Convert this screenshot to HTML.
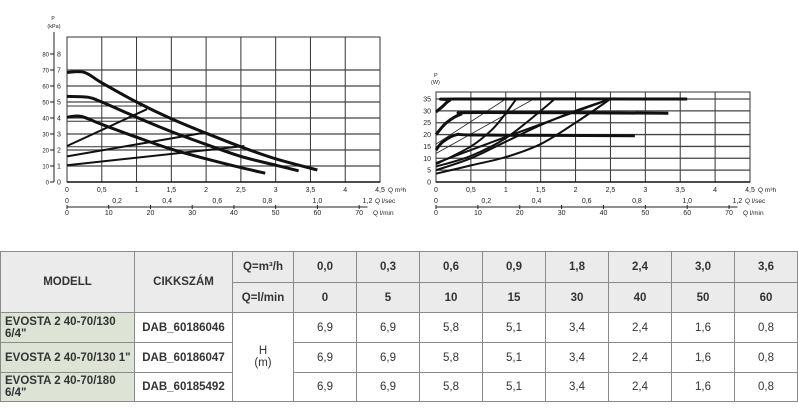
<!DOCTYPE html>
<html><head><meta charset="utf-8"><style>
body{margin:0;background:#fff;width:798px;height:419px;overflow:hidden;font-family:"Liberation Sans",sans-serif}
svg{position:absolute;left:0;top:0}
svg text{font-family:"Liberation Sans",sans-serif;fill:#222}
table{position:absolute;left:0;top:251px;border-collapse:collapse;table-layout:fixed;width:797px}
td{border:1px solid #8a8a8a;text-align:center;font-size:11.5px;color:#333;padding:0;font-family:"Liberation Sans",sans-serif}
.h{background:#ebebeb;font-weight:bold}
.m{background:#dde3d5;font-weight:bold;text-align:left;padding-left:4px}
.b{font-weight:bold}
</style></head><body>
<svg id="chart" width="798" height="250"></svg>
<table>
<colgroup><col style="width:134px"><col style="width:98px"><col style="width:61px"><col style="width:63px"><col style="width:63px"><col style="width:63px"><col style="width:63px"><col style="width:63px"><col style="width:63px"><col style="width:63px"><col style="width:63px"></colgroup>
<tr style="height:31px"><td class="h" rowspan="2">MODELL</td><td class="h" rowspan="2">CIKKSZÁM</td><td class="h" style="font-weight:bold">Q=m³/h</td><td class="h">0,0</td><td class="h">0,3</td><td class="h">0,6</td><td class="h">0,9</td><td class="h">1,8</td><td class="h">2,4</td><td class="h">3,0</td><td class="h">3,6</td></tr>
<tr style="height:30px"><td class="h">Q=l/min</td><td class="h">0</td><td class="h">5</td><td class="h">10</td><td class="h">15</td><td class="h">30</td><td class="h">40</td><td class="h">50</td><td class="h">60</td></tr>
<tr style="height:30px"><td class="m">EVOSTA 2 40-70/130 6/4"</td><td class="b">DAB_60186046</td><td rowspan="3">H<br>(m)</td><td>6,9</td><td>6,9</td><td>5,8</td><td>5,1</td><td>3,4</td><td>2,4</td><td>1,6</td><td>0,8</td></tr>
<tr style="height:30px"><td class="m">EVOSTA 2 40-70/130 1"</td><td class="b">DAB_60186047</td><td>6,9</td><td>6,9</td><td>5,8</td><td>5,1</td><td>3,4</td><td>2,4</td><td>1,6</td><td>0,8</td></tr>
<tr style="height:29px"><td class="m">EVOSTA 2 40-70/180 6/4"</td><td class="b">DAB_60185492</td><td>6,9</td><td>6,9</td><td>5,8</td><td>5,1</td><td>3,4</td><td>2,4</td><td>1,6</td><td>0,8</td></tr>
</table>
<script>
// ---- data ----
const hCurveHigh=[[0,6.85],[0.25,6.85],[0.5,6.2],[1,5],[1.5,3.95],[2,3.05],[2.5,2.2],[3,1.45],[3.6,0.75]];
const hCurveMid=[[0,5.35],[0.3,5.3],[0.5,5],[1,4.05],[1.5,3.15],[2,2.35],[2.5,1.6],[3,1.05],[3.33,0.7]];
const hCurveLow=[[0,4.05],[0.2,4.1],[0.5,3.6],[1,2.8],[1.5,2.05],[2,1.45],[2.5,0.9],[2.85,0.55]];
const hLines=[[[0,2.25],[1.15,4.55]],[[0,1.6],[2,3.1]],[[0,1.05],[2.55,2.25]]];
const hThin=[[[0,4.75],[1.15,4.75]],[[0,3.8],[1.6,3.8]],[[0,2.2],[2.5,2.2]]];
const pCurveHigh=[[0,29.5],[0.1,32],[0.2,34.5],[0.35,35],[3.6,35]];
const pCurveMid=[[0,20],[0.15,25],[0.35,28.5],[0.6,29.3],[3.33,29]];
const pCurveLow=[[0,13.5],[0.1,17],[0.3,20],[0.6,19.8],[2.85,19.5]];
const pRise=[[[0,7.5],[0.5,15],[0.8,22],[1,29],[1.15,35]],[[0,6.5],[0.5,11],[1,18.5],[1.5,30],[1.7,35]],[[0,5],[0.5,10],[1,17],[1.5,24],[2,30],[2.5,35]],[[0,3.5],[0.5,7],[1,10.5],[1.5,16],[2,25],[2.5,35]],[[0,8],[1,19],[2.5,35]]];
const pThin=[[[0,16],[1,35]],[[0,12],[1.4,35]]];
const qTicks=["0","0,5","1","1,5","2","2,5","3","3,5","4","4,5"];
const lsTicks=[0,0.2,0.4,0.6,0.8,1.0,1.2];
const lsLabels=["0","0,2","0,4","0,6","0,8","1,0","1,2"];
const lmTicks=[0,10,20,30,40,50,60,70];
const hTicks=[0,1,2,3,4,5,6,7,8];
const kpaTicks=[0,10,20,30,40,50,60,70,80];
const pTicks=[0,5,10,15,20,25,30,35];
// ---- drawing ----
const S=document.getElementById('chart');const NS='http://www.w3.org/2000/svg';
function el(t,a,txt){const e=document.createElementNS(NS,t);for(const k in a)e.setAttribute(k,a[k]);if(txt!==undefined)e.textContent=txt;S.appendChild(e);return e;}
function path(pts,sx,sy){return pts.map((p,i)=>(i?'L':'M')+sx(p[0]).toFixed(1)+','+sy(p[1]).toFixed(1)).join('');}
function smooth(pts,sx,sy){const P=pts.map(p=>[sx(p[0]),sy(p[1])]);let d='M'+P[0];for(let i=0;i<P.length-1;i++){const p0=P[i-1]||P[i],p1=P[i],p2=P[i+1],p3=P[i+2]||p2;d+='C'+(p1[0]+(p2[0]-p0[0])/6)+','+(p1[1]+(p2[1]-p0[1])/6)+' '+(p2[0]-(p3[0]-p1[0])/6)+','+(p2[1]-(p3[1]-p1[1])/6)+' '+p2;}return d;}
function axes(x0,x1,yTop,yBot,name){
 const sx=q=>x0+q/4.5*(x1-x0);
 for(let i=1;i<=9;i++){const e=el('line',{x1:sx(i*0.5),y1:yTop,x2:sx(i*0.5),y2:yBot,stroke:'#333','stroke-width':1});}
 const f=el('rect',{x:x0,y:yTop,width:x1-x0,height:yBot-yTop,fill:'none',stroke:'#333','stroke-width':1});
 
 el('line',{x1:x0,y1:yBot,x2:x1,y2:yBot,stroke:'#111','stroke-width':1.5});
 qTicks.forEach((t,i)=>{const e=el('text',{x:sx(i*0.5),y:yBot+10,'font-size':7,'text-anchor':'middle'},t);});
 el('text',{x:x1+8,y:yBot+10,'font-size':6.5},'Q m³h');
 const ls=q=>sx(q*3.6);
 lsTicks.forEach((t,i)=>{el('text',{x:ls(t),y:yBot+21,'font-size':7,'text-anchor':'middle'},lsLabels[i]);});
 el('text',{x:x1-5,y:yBot+21,'font-size':6.5},'Q l/sec');
 el('line',{x1:x0,y1:yBot+25,x2:ls(1.2),y2:yBot+25,stroke:'#222','stroke-width':1});
 lmTicks.forEach(t=>{const x=sx(t*0.06);el('line',{x1:x,y1:yBot+23,x2:x,y2:yBot+27,stroke:'#222'});el('text',{x:x,y:yBot+33,'font-size':7,'text-anchor':'middle'},String(t));});
 el('text',{x:x1-7,y:yBot+33,'font-size':6.5},'Q l/min');
 return sx;}
// chart 1
const sx1=axes(67,380,37,182,'head-chart');const sy1=v=>182-v*16;
hTicks.forEach(t=>{if(t>0&&t<8){el('line',{x1:67,y1:sy1(t),x2:380,y2:sy1(t),stroke:'#444','stroke-width':1.3});}
 el('text',{x:59,y:sy1(t)+2.5,'font-size':7,'text-anchor':'middle'},String(t));});
kpaTicks.forEach(t=>{el('text',{x:49,y:sy1(t/10)+2.5,'font-size':6,'text-anchor':'end'},String(t));el('line',{x1:50,y1:sy1(t/10),x2:54,y2:sy1(t/10),stroke:'#222'});});
el('line',{x1:54,y1:32,x2:54,y2:182,stroke:'#222'});
el('text',{x:53,y:20,'font-size':5,'text-anchor':'middle'},'P');el('text',{x:54,y:28,'font-size':5.5,'text-anchor':'middle'},'(kPa)');
hThin.forEach(l=>{el('path',{d:path(l,sx1,sy1),stroke:'#333','stroke-width':1,fill:'none'});});
hLines.forEach(l=>{const e=el('path',{d:path(l,sx1,sy1),stroke:'#111','stroke-width':2,fill:'none'});});
[[hCurveHigh,'head-curve-high'],[hCurveMid,'head-curve-mid'],[hCurveLow,'head-curve-low']].forEach(([c,n])=>{const e=el('path',{d:smooth(c,sx1,sy1),stroke:'#111','stroke-width':3,fill:'none'});});
// chart 2
const sx2=axes(436,750,92,182,'power-chart');const sy2=v=>182-v*83/35;
pTicks.forEach(t=>{if(t>0){el('line',{x1:436,y1:sy2(t),x2:750,y2:sy2(t),stroke:'#444','stroke-width':1.3});}
 el('text',{x:431,y:sy2(t)+2.5,'font-size':7,'text-anchor':'end'},String(t));});
el('text',{x:434,y:77,'font-size':5.5},'P');el('text',{x:431,y:84,'font-size':5.5},'(W)');
pThin.forEach(l=>{el('path',{d:path(l,sx2,sy2),stroke:'#222','stroke-width':0.8,fill:'none'});});
pRise.forEach(c=>{const e=el('path',{d:smooth(c,sx2,sy2),stroke:'#111','stroke-width':2,fill:'none'});});
[[pCurveHigh,'power-curve-high'],[pCurveMid,'power-curve-mid'],[pCurveLow,'power-curve-low']].forEach(([c,n])=>{const e=el('path',{d:smooth(c,sx2,sy2),stroke:'#111','stroke-width':3,fill:'none'});});
</script>
</body></html>
